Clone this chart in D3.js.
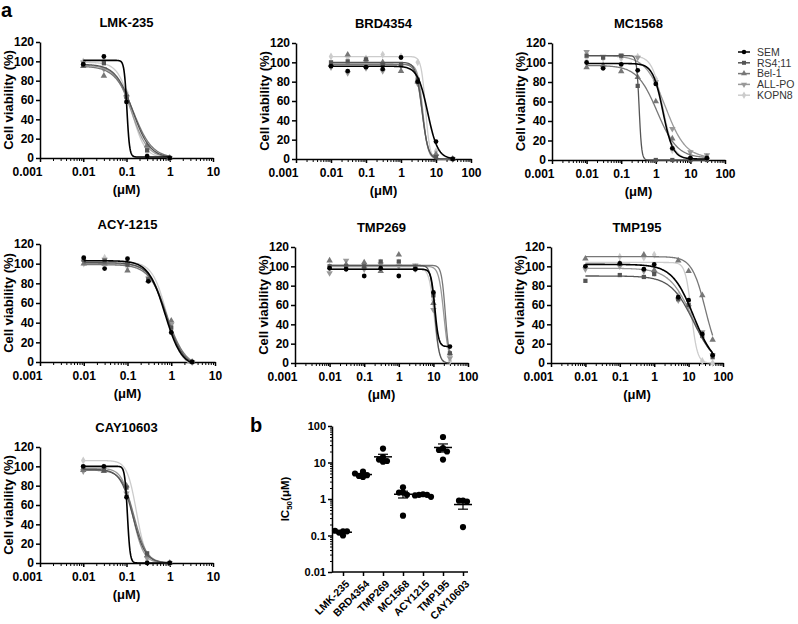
<!DOCTYPE html>
<html>
<head>
<meta charset="utf-8">
<script src="https://cdn.jsdelivr.net/npm/d3@7"></script>
<style>
  body { margin: 0; background: #fff; }
  svg { font-family: "Liberation Sans", Arial, sans-serif; }
  .axis path, .axis line { stroke: #000; stroke-width: 1.5; }
  .minor path { display: none; }
  .minor line { stroke: #000; stroke-width: 1; }
  .axis text { font-size: 12px; font-weight: bold; fill: #000; }
  .title { font-size: 13px; font-weight: bold; }
  .ylab { font-size: 13px; font-weight: bold; }
</style>
</head>
<body>
<svg id="fig" width="798" height="624"></svg>
<script>
// cell lines, shared by all dose-response panels
var cellLines = ["SEM", "RS4;11", "Bel-1", "ALL-PO", "KOPN8"];
var lineColors = ["#000000", "#555555", "#777777", "#999999", "#cccccc"];

var viabilityTicks = [0, 20, 40, 60, 80, 100, 120];

// ---- LMK-235 ----
var lmkDoses = [0.01, 0.03, 0.1, 0.3, 1];
var lmkViability = [
  [97, 105, 58, 2, 0],
  [96, 98, 63, 8, 0],
  [95, 85, 66, 13, 0],
  [99, 92, 62, 10, 0],
  [100, 100, 68, 6, 0]
];
// fit: top, bottom, IC50, hill
var lmkFit = [
  [101, 1, 0.102, 14],
  [97, 0, 0.14, 2.2],
  [95, 0, 0.145, 2.0],
  [96, 0, 0.13, 2.3],
  [99, 0, 0.13, 2.8]
];

// ---- BRD4354 ----
var brdDoses = [0.01, 0.03, 0.1, 0.3, 1, 3, 10, 30];
var brdViability = [
  [96, 91, 95, 93, 105, 80, 18, 0],
  [100, 101, 103, 98, 98, 82, 2, 0],
  [98, 108, 103, 100, 91, 80, 5, 0],
  [95, 89, 94, 91, 96, 78, 3, 0],
  [106, 105, 104, 108, 106, 100, 8, 0]
];
var brdFit = [
  [96, 0, 5.8, 3],
  [100, 0, 4.0, 5],
  [98, 0, 4.0, 5],
  [98, 0, 4.2, 6],
  [106, 0, 5.0, 7]
];

// ---- MC1568 ----
var mcDoses = [0.01, 0.03, 0.1, 0.3, 1, 3, 10, 30];
var mcViability = [
  [100, 94, 98, 92, 78, 12, 2, 2],
  [107, 105, 107, 76, 0, 0, 0, 0],
  [95, 97, 91, 85, 60, 22, 3, 3],
  [111, 106, 107, 105, 80, 32, 8, 5],
  [105, 104, 104, 106, 83, 10, 2, 3]
];
var mcFit = [
  [99, 1, 1.6, 3],
  [107, 0, 0.33, 12],
  [97, 2, 1.1, 1.5],
  [107, 2, 1.9, 1.5],
  [107, 1, 1.6, 2.8]
];

// ---- ACY-1215 ----
var acyDoses = [0.01, 0.03, 0.1, 0.3, 1, 3];
var acyViability = [
  [106, 95, 105, 82, 30, 0],
  [104, 103, 99, 84, 35, 0],
  [100, 100, 93, 83, 42, 0],
  [102, 104, 100, 85, 38, 0],
  [100, 106, 96, 87, 40, 0]
];
var acyFit = [
  [103, -5, 0.72, 2.3],
  [101, -5, 0.76, 2.2],
  [99, -5, 0.8, 2.1],
  [100, -5, 0.78, 2.3],
  [102, -6, 0.8, 2.6]
];

// ---- TMP269 ----
var tmp269Doses = [0.01, 0.03, 0.1, 0.3, 1, 3, 10, 30];
var tmp269Viability = [
  [98, 97, 90, 98, 90, 97, 73, 17],
  [100, 100, 100, 105, 105, 98, 70, 10],
  [106, 102, 104, 95, 112, 99, 62, 10],
  [93, 106, 97, 102, 100, 101, 55, 5],
  [100, 98, 102, 104, 104, 97, 65, 2]
];
var tmp269Fit = [
  [97, 17, 11, 8],
  [101, 0, 11, 7],
  [101, 3, 22, 8],
  [100, 0, 20, 6],
  [98, 0, 10.5, 6]
];

// ---- TMP195 ----
var tmp195Doses = [0.01, 0.1, 0.5, 1, 5, 10, 25, 50];
var tmp195Viability = [
  [100, 103, 97, 102, 68, 65, 30, 8],
  [85, 91, 89, 92, 66, 60, 28, 6],
  [108, 103, 112, 96, 106, 95, 70, 24],
  [97, 100, 95, 93, 65, 58, 32, 8],
  [99, 110, 109, 112, 70, 58, 2, 0]
];
var tmp195Fit = [
  [102, -5, 14, 1.4],
  [90, -5, 14, 1.3],
  [110, 0, 31, 2.2],
  [98, -5, 13, 1.3],
  [104, 0, 12, 5]
];

// ---- CAY10603 ----
var cayDoses = [0.01, 0.03, 0.1, 0.3, 1];
var cayViability = [
  [100, 100, 68, 0, 0],
  [99, 96, 78, 10, 0],
  [96, 95, 80, 8, 0],
  [95, 97, 72, 5, 0],
  [106, 99, 70, 2, 0]
];
var cayFit = [
  [100, 0, 0.105, 14],
  [97, 0, 0.14, 3],
  [96, 0, 0.15, 3],
  [98, 0, 0.14, 3.5],
  [106, 0, 0.17, 4]
];

// ---- panel b: IC50 per drug ----
var ic50Drugs = ["LMK-235", "BRD4354", "TMP269", "MC1568", "ACY1215", "TMP195", "CAY10603"];
var ic50Values = [
  [0.10, 0.12, 0.13, 0.13, 0.135],
  [4.0, 4.3, 4.5, 5.0, 5.6],
  [24, 14, 12, 11, 10.5],
  [2.1, 1.5, 1.5, 1.3, 0.35],
  [1.35, 1.3, 1.3, 1.25, 1.15],
  [50, 25, 22, 20, 12],
  [0.9, 0.9, 0.85, 0.17]
];

var panels = [
  {name: "LMK-235", doses: lmkDoses, values: lmkViability, fit: lmkFit, xMax: 10, box: {x0: 40, x1: 213, y0: 42, y1: 158}},
  {name: "BRD4354", doses: brdDoses, values: brdViability, fit: brdFit, xMax: 100, box: {x0: 296, x1: 471, y0: 43, y1: 159}},
  {name: "MC1568", doses: mcDoses, values: mcViability, fit: mcFit, xMax: 100, box: {x0: 552, x1: 725, y0: 43, y1: 160}},
  {name: "ACY-1215", doses: acyDoses, values: acyViability, fit: acyFit, xMax: 10, box: {x0: 40, x1: 215, y0: 244, y1: 362}},
  {name: "TMP269", doses: tmp269Doses, values: tmp269Viability, fit: tmp269Fit, xMax: 100, box: {x0: 295, x1: 468, y0: 247, y1: 363}},
  {name: "TMP195", doses: tmp195Doses, values: tmp195Viability, fit: tmp195Fit, xMax: 100, box: {x0: 551, x1: 723, y0: 247, y1: 363}},
  {name: "CAY10603", doses: cayDoses, values: cayViability, fit: cayFit, xMax: 10, box: {x0: 40, x1: 213, y0: 447, y1: 563}}
];

var svg = d3.select("#fig");
var fmtTick = d3.format("~g");

// marker for each cell line
function addMarker(sel, i, size) {
  var types = [d3.symbolCircle, d3.symbolSquare, d3.symbolTriangle, d3.symbolTriangle, d3.symbolDiamond];
  var m = sel.append("path")
    .attr("d", d3.symbol().type(types[i]).size(size))
    .attr("fill", lineColors[i]);
  if (i == 3) m.attr("transform", "rotate(180)");
  return m;
}

function logistic(f, c) {
  return f[1] + (f[0] - f[1]) / (1 + Math.pow(c / f[2], f[3]));
}

function drawDosePanel(p) {
  var b = p.box;
  var g = svg.append("g");
  var x = d3.scaleLog().domain([0.001, p.xMax]).range([b.x0, b.x1]);
  var y = d3.scaleLinear().domain([0, 120]).range([b.y1, b.y0]).clamp(true);

  g.append("text").attr("class", "title")
    .attr("x", (b.x0 + b.x1) / 2).attr("y", b.y0 - 15)
    .attr("text-anchor", "middle").text(p.name);

  // minor log ticks
  var majors = [], minors = [];
  for (var e = -3; Math.pow(10, e) <= p.xMax * 1.0001; e++) {
    majors.push(+Math.pow(10, e).toPrecision(3));
    if (Math.pow(10, e + 1) <= p.xMax * 1.0001)
      for (var k = 2; k < 10; k++) minors.push(+(k * Math.pow(10, e)).toPrecision(3));
  }
  g.append("g").attr("class", "minor")
    .attr("transform", "translate(0," + b.y1 + ")")
    .call(d3.axisBottom(x).tickValues(minors).tickSize(3).tickFormat(""));

  var xa = g.append("g").attr("class", "axis")
    .attr("transform", "translate(0," + b.y1 + ")")
    .call(d3.axisBottom(x).tickValues(majors).tickFormat(fmtTick).tickSize(4).tickSizeOuter(0).tickPadding(5));
  // first label sits left of the y axis, as Prism draws it
  xa.select(".tick text").attr("text-anchor", "end").attr("x", 2);

  g.append("g").attr("class", "axis")
    .attr("transform", "translate(" + b.x0 + ",0)")
    .call(d3.axisLeft(y).tickValues(viabilityTicks).tickSize(4).tickSizeOuter(0).tickPadding(2));

  g.append("text").attr("class", "ylab")
    .attr("transform", "translate(" + (b.x0 - 27) + "," + (b.y0 + b.y1) / 2 + ") rotate(-90)")
    .attr("text-anchor", "middle").text("Cell viability (%)");

  g.append("text").attr("class", "ylab")
    .attr("x", (b.x0 + b.x1) / 2).attr("y", b.y1 + 36)
    .attr("text-anchor", "middle").text("(\u03bcM)");

  var line = d3.line().x(function(d) { return x(d[0]); }).y(function(d) { return y(d[1]); });
  var lo = d3.min(p.doses), hi = d3.max(p.doses);

  // light lines first, SEM on top
  for (var i = cellLines.length - 1; i >= 0; i--) {
    var f = p.fit[i];
    var pts = d3.range(0, 201).map(function(j) {
      var c = lo * Math.pow(hi / lo, j / 200);
      return [c, logistic(f, c)];
    });
    g.append("path").attr("d", line(pts))
      .attr("fill", "none").attr("stroke", lineColors[i])
      .attr("stroke-width", i == 0 ? 1.6 : 1.3);

    var vals = p.values[i];
    p.doses.forEach(function(c, k) {
      var mg = g.append("g").attr("transform", "translate(" + x(c) + "," + y(vals[k]) + ")");
      addMarker(mg, i, 18);
    });
  }
}

panels.forEach(drawDosePanel);

// legend beside MC1568
var legend = svg.append("g").attr("transform", "translate(738,52)");
cellLines.forEach(function(name, i) {
  var row = legend.append("g").attr("transform", "translate(0," + i * 10.8 + ")");
  row.append("line").attr("x1", 0).attr("x2", 12)
    .attr("stroke", lineColors[i]).attr("stroke-width", 1.5);
  addMarker(row.append("g").attr("transform", "translate(6,0)"), i, 16);
  row.append("text").attr("x", 19).attr("dy", "0.36em")
    .attr("font-size", 10.5).attr("fill", "#333").text(name);
});

// panel letters
svg.append("text").attr("x", 1).attr("y", 17).attr("font-size", 20).attr("font-weight", "bold").text("a");
svg.append("text").attr("x", 250).attr("y", 432).attr("font-size", 20).attr("font-weight", "bold").text("b");

// ---- panel b ----
(function() {
  var gb = svg.append("g");
  var x = d3.scalePoint().domain(ic50Drugs).range([343, 463]);
  var y = d3.scaleLog().domain([0.01, 100]).range([572, 426]);

  var minors = [];
  [0.01, 0.1, 1, 10].forEach(function(d) {
    for (var k = 2; k < 10; k++) minors.push(+(k * d).toPrecision(3));
  });
  gb.append("g").attr("class", "minor")
    .attr("transform", "translate(332,0)")
    .call(d3.axisLeft(y).tickValues(minors).tickSize(2).tickFormat(""));
  gb.append("g").attr("class", "axis")
    .attr("transform", "translate(332,0)")
    .call(d3.axisLeft(y).tickValues([0.01, 0.1, 1, 10, 100]).tickFormat(fmtTick)
      .tickSize(4).tickSizeOuter(0).tickPadding(2))
    .selectAll("text").style("font-size", "11px");

  var xa = gb.append("g").attr("class", "axis")
    .attr("transform", "translate(0,572)")
    .call(d3.axisBottom(x).tickSize(4).tickSizeOuter(0));
  xa.select(".domain").remove();
  xa.append("line").attr("x1", 332).attr("x2", 468).attr("stroke", "#000").attr("stroke-width", 1.5);
  xa.selectAll("text")
    .attr("y", 0).attr("dy", "0.35em")
    .attr("text-anchor", "end")
    .attr("transform", "translate(4,10) rotate(-45)")
    .style("font-size", "10.5px");

  var yl = gb.append("text").attr("class", "ylab")
    .attr("transform", "translate(289,499) rotate(-90)")
    .attr("text-anchor", "middle").style("font-size", "11.5px");
  yl.append("tspan").text("IC");
  yl.append("tspan").style("font-size", "8px").attr("dy", 3).text("50");
  yl.append("tspan").attr("dy", -3).text("(\u03bcM)");

  ic50Drugs.forEach(function(drug, i) {
    var vals = ic50Values[i];
    var cx = x(drug);
    // simple swarm so close points sit side by side
    var placed = [];
    vals.forEach(function(v) {
      var py = y(v);
      var offs = [0, -4, 4, -8, 8, -12, 12];
      var dx = 0;
      for (var o = 0; o < offs.length; o++) {
        var ok = placed.every(function(q) {
          return Math.hypot(q[0] - offs[o], q[1] - py) >= 4;
        });
        if (ok) { dx = offs[o]; break; }
      }
      placed.push([dx, py]);
      gb.append("circle").attr("cx", cx + dx).attr("cy", py).attr("r", 3.1).attr("fill", "#000");
    });

    var mean = d3.mean(vals);
    var se = d3.deviation(vals) / Math.sqrt(vals.length);
    gb.append("line").attr("x1", cx - 9).attr("x2", cx + 9)
      .attr("y1", y(mean)).attr("y2", y(mean)).attr("stroke", "#000").attr("stroke-width", 1.5);
    gb.append("line").attr("x1", cx).attr("x2", cx)
      .attr("y1", y(mean + se)).attr("y2", y(Math.max(mean - se, 0.011))).attr("stroke", "#000").attr("stroke-width", 1.2);
    [mean + se, Math.max(mean - se, 0.011)].forEach(function(v) {
      gb.append("line").attr("x1", cx - 5).attr("x2", cx + 5)
        .attr("y1", y(v)).attr("y2", y(v)).attr("stroke", "#000").attr("stroke-width", 1.2);
    });
  });
})();
</script>
</body>
</html>
